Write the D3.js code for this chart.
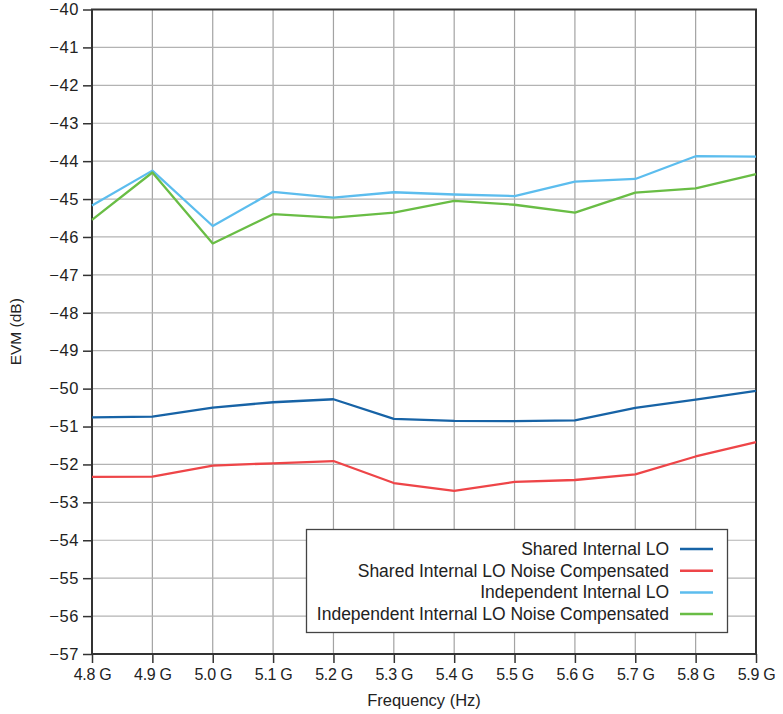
<!DOCTYPE html>
<html><head><meta charset="utf-8">
<script src="https://cdn.jsdelivr.net/npm/d3@7/dist/d3.min.js"></script>
<style>body{margin:0;background:#fff;} text{font-family:"Liberation Sans",Arial,sans-serif;fill:#222;}</style>
</head><body><svg id="c" width="783" height="714"></svg>
<script>
const freqs = [4.8, 4.9, 5.0, 5.1, 5.2, 5.3, 5.4, 5.5, 5.6, 5.7, 5.8, 5.9];
const xTickLabels = ["4.8 G","4.9 G","5.0 G","5.1 G","5.2 G","5.3 G","5.4 G","5.5 G","5.6 G","5.7 G","5.8 G","5.9 G"];
const yTicks = [-40,-41,-42,-43,-44,-45,-46,-47,-48,-49,-50,-51,-52,-53,-54,-55,-56,-57];
const seriesNames = ["Shared Internal LO","Shared Internal LO Noise Compensated","Independent Internal LO","Independent Internal LO Noise Compensated"];
const seriesColors = ["#1763a6","#ee4548","#5cbdee","#69bd45"];
const sharedLO = [-50.76,-50.74,-50.50,-50.36,-50.28,-50.80,-50.85,-50.86,-50.84,-50.51,-50.29,-50.06];
const sharedLONC = [-52.33,-52.32,-52.03,-51.97,-51.91,-52.49,-52.70,-52.46,-52.41,-52.26,-51.79,-51.41];
const indepLO = [-45.17,-44.25,-45.71,-44.81,-44.96,-44.82,-44.88,-44.92,-44.54,-44.47,-43.87,-43.88];
const indepLONC = [-45.55,-44.30,-46.17,-45.40,-45.49,-45.36,-45.05,-45.15,-45.36,-44.83,-44.72,-44.34];
const seriesData = [sharedLO, sharedLONC, indepLO, indepLONC];

const svg = d3.select("#c");
const L = 92, R = 756, T = 9.5, B = 654;
const x = d3.scaleLinear().domain([4.8, 5.9]).range([L, R]);
const y = d3.scaleLinear().domain([-57, -40]).range([B, T]);

// grid
svg.append("g").selectAll("line").data(freqs.slice(1, -1)).join("line")
  .attr("x1", d => x(d)).attr("x2", d => x(d)).attr("y1", T).attr("y2", B)
  .attr("stroke", "#a3a3a3").attr("stroke-width", 1.2);
svg.append("g").selectAll("line").data(yTicks.slice(1, -1)).join("line")
  .attr("x1", L).attr("x2", R).attr("y1", d => y(d)).attr("y2", d => y(d))
  .attr("stroke", "#b3b3b3").attr("stroke-width", 1.2);

// axes
const fmtY = d => "\u2212" + Math.abs(d);
const yAxis = d3.axisLeft(y).tickValues(yTicks).tickFormat(fmtY).tickSize(9).tickPadding(4);
const gy = svg.append("g").attr("transform", `translate(${L},0)`).call(yAxis);
const xAxis = d3.axisBottom(x).tickValues(freqs).tickFormat((d, i) => xTickLabels[i]).tickSize(9).tickPadding(6);
const gx = svg.append("g").attr("transform", `translate(0,${B})`).call(xAxis);
[gx, gy].forEach(g => {
  g.select(".domain").remove();
  g.selectAll("line").attr("stroke", "#333").attr("stroke-width", 1.5);
  g.selectAll("text").style("font-size", "16px").attr("fill", "#222").style("font-family", "\"Liberation Sans\",Arial,sans-serif");
});
gx.selectAll("text").attr("letter-spacing", "-0.3px");
gy.selectAll("text").style("font-size", "16.5px").attr("letter-spacing", "0.6px");
// frame
svg.append("rect").attr("x", L).attr("y", T).attr("width", R - L).attr("height", B - T)
  .attr("fill", "none").attr("stroke", "#333").attr("stroke-width", 2);

// lines
const line = d3.line().x((d, i) => x(freqs[i])).y(d => y(d));
seriesData.forEach((s, k) => {
  svg.append("path").datum(s).attr("d", line).attr("fill", "none")
    .attr("stroke", seriesColors[k]).attr("stroke-width", 2.3).attr("stroke-linejoin", "round");
});

// labels
svg.append("text").attr("x", 424).attr("y", 706).attr("text-anchor", "middle")
  .style("font-size", "16.5px").text("Frequency (Hz)");
svg.append("text").attr("transform", `translate(21,${(T + B) / 2}) rotate(-90)`).attr("text-anchor", "middle")
  .style("font-size", "15.5px").text("EVM (dB)");

// legend
const lg = svg.append("g");
lg.append("rect").attr("x", 306.5).attr("y", 529.5).attr("width", 421).attr("height", 103)
  .attr("fill", "#fff").attr("stroke", "#444").attr("stroke-width", 1.3);
seriesNames.forEach((n, k) => {
  const yy = 549 + k * 21.7;
  lg.append("text").attr("x", 669).attr("y", yy + 6).attr("text-anchor", "end")
    .style("font-size", "17.5px").text(n);
  lg.append("line").attr("x1", 680).attr("x2", 713).attr("y1", yy).attr("y2", yy)
    .attr("stroke", seriesColors[k]).attr("stroke-width", 2.5);
});
</script></body></html>
